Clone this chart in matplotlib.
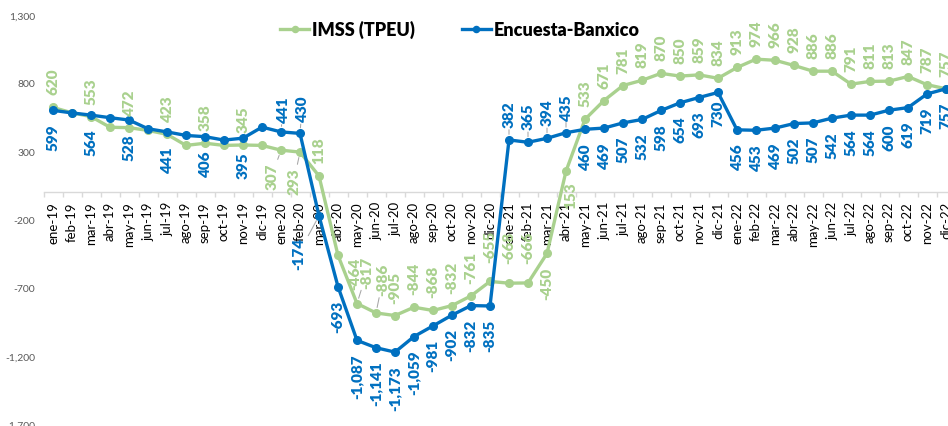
import matplotlib
matplotlib.use("Agg")
import matplotlib.pyplot as plt
from matplotlib.ticker import FixedLocator, FuncFormatter

months = ['ene', 'feb', 'mar', 'abr', 'may', 'jun', 'jul', 'ago', 'sep', 'oct', 'nov', 'dic']
years = ['19', '20', '21', '22']
categories = [f"{m}-{y}" for y in years for m in months]

imss = [620, 581, 553, 475, 472, 452, 423, 342, 358, 342, 345, 342,
        307, 293, 118, -464, -817, -886, -905, -844, -868, -832, -761, -655,
        -668, -666, -450, 153, 533, 671, 781, 819, 870, 850, 859, 834,
        913, 974, 966, 928, 886, 886, 791, 811, 813, 847, 787, 757]
banxico = [599, 580, 564, 545, 528, 464, 441, 415, 406, 381, 395, 476,
           441, 430, -174, -693, -1087, -1141, -1173, -1059, -981, -902, -832, -835,
           382, 365, 394, 435, 460, 469, 507, 532, 598, 654, 693, 730,
           456, 453, 469, 502, 507, 542, 564, 564, 600, 619, 719, 757]
unlabeled = {1, 3, 5, 7, 9, 11}
yticks = [-1700, -1200, -700, -200, 300, 800, 1300]
series_names = ['IMSS (TPEU)', 'Encuesta-Banxico']

GREEN = '#A9D18E'
BLUE = '#0070C0'
FONT = ['Lato', 'DejaVu Sans']
plt.rcParams['font.family'] = FONT

fig = plt.figure(figsize=(9.48, 4.27), dpi=100)
ax = fig.add_axes([43.5 / 948, 2 / 427, 912 / 948, 409.3 / 427])

x = list(range(len(categories)))
ax.plot(x, imss, color=GREEN, lw=2.4, marker='o', ms=5.5, label=series_names[0], zorder=3)
ax.plot(x, banxico, color=BLUE, lw=2.4, marker='o', ms=5.5, label=series_names[1], zorder=4)

ax.set_xlim(-0.5, len(categories) - 0.5)
ax.set_ylim(-1700, 1300)

for s in ['top', 'right', 'left']:
    ax.spines[s].set_visible(False)
ax.spines['bottom'].set_position(('data', 0))
ax.spines['bottom'].set_color('#d9d9d9')
ax.spines['bottom'].set_linewidth(1)

ax.set_yticks(yticks)
ax.yaxis.set_major_formatter(FuncFormatter(lambda v, p: f"{int(v):,}"))
ax.tick_params(axis='y', length=0, pad=6, labelsize=7.5, labelcolor='#595959')

ax.set_xticks(x)
ax.set_xticklabels(categories, rotation=90, fontsize=9.5, color='#000000')
ax.xaxis.set_minor_locator(FixedLocator([i - 0.5 for i in range(len(categories) + 1)]))
ax.tick_params(axis='x', which='major', length=0, pad=6.5)
ax.tick_params(axis='x', which='minor', length=3.5, color='#d9d9d9', width=1, direction='out')

# label placement: index -> (dx px, dy px, va, leader)
green_special = {
    12: (-9, -12, 'top', True),
    13: (-6, -15, 'top', True),
    15: (17, -18, 'center', False),
    16: (10, 16, 'bottom', True),
    17: (7, 18, 'bottom', True),
    23: (0, 19, 'bottom', False),
    24: (0, 20, 'bottom', False),
    25: (0, 20, 'bottom', False),
    26: (0, -13, 'top', False),
    27: (5, -10, 'top', False),
}
blue_special = {
    12: (2, 10, 'bottom', True),
    13: (2, 12, 'bottom', True),
    14: (-20, -21, 'top', True),
    24: (0, 13, 'bottom', True),
    25: (0, 13, 'bottom', True),
    26: (0, 13, 'bottom', True),
    27: (0, 13, 'bottom', True),
    35: (0, -7, 'top', False),
}


def add_labels(values, color, default, special):
    for i, v in enumerate(values):
        if i in unlabeled:
            continue
        dx, dy, va, leader = special.get(i, default)
        kw = {}
        if leader:
            kw['arrowprops'] = dict(arrowstyle='-', color='#a6a6a6', lw=0.75,
                                    shrinkA=0, shrinkB=4)
        ax.annotate(f"{v:,}", xy=(i, v), xytext=(dx, dy), textcoords='offset pixels',
                    rotation=90, ha='center', va=va, fontsize=11, fontweight='heavy',
                    color=color, zorder=5, annotation_clip=False, **kw)


add_labels(imss, GREEN, (0, 13, 'bottom', False), green_special)
add_labels(banxico, BLUE, (0, -13, 'top', False), blue_special)

fig.legend(loc='center', bbox_to_anchor=(460 / 948, 1 - 30 / 427), ncol=2, frameon=False,
           prop={'family': FONT, 'weight': 'heavy', 'size': 13},
           handlelength=1.6, handletextpad=0.15, columnspacing=2.6, markerscale=0.8)

fig.savefig('out.png', dpi=100)
